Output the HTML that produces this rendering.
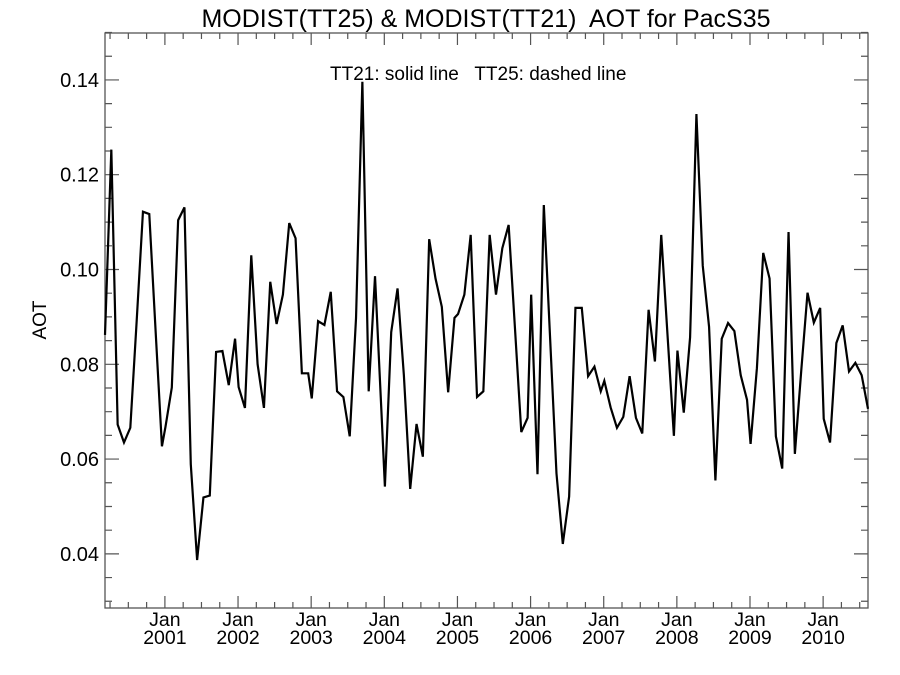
<!DOCTYPE html>
<html><head><meta charset="utf-8"><style>
body{margin:0;background:#fff}
svg{display:block;font-family:"Liberation Sans",Arial,sans-serif}
</style></head><body>
<svg id="chart" width="900" height="675" viewBox="0 0 900 675">
<g id="axes"></g>
<g id="series"></g>
<text x="486" y="27" font-size="25" text-anchor="middle" xml:space="preserve">MODIST(TT25) &amp; MODIST(TT21)  AOT for PacS35</text>
<text x="330" y="80" font-size="19" xml:space="preserve">TT21: solid line   TT25: dashed line</text>
<text transform="translate(46,320) rotate(-90)" font-size="19" text-anchor="middle">AOT</text>
</svg>
<script>
// Monthly TT21 AOT, starting March 2000
const startYear = 2000;
const startMonth = 3;
const tt21Values = [
0.0862,0.1253,0.0673,0.0635,0.0666,0.0890,0.1122,0.1117,0.0870,0.0627,
0.0668,0.0751,0.1104,0.1131,0.0589,0.0387,0.0519,0.0523,0.0826,0.0828,0.0756,0.0854,
0.0752,0.0708,0.1030,0.0800,0.0708,0.0974,0.0885,0.0947,0.1098,0.1066,0.0781,0.0781,
0.0728,0.0891,0.0883,0.0953,0.0743,0.0731,0.0648,0.0898,0.1396,0.0743,0.0986,0.0704,
0.0542,0.0868,0.0960,0.0777,0.0537,0.0674,0.0605,0.1064,0.0981,0.0921,0.0741,0.0898,
0.0906,0.0947,0.1073,0.0731,0.0743,0.1073,0.0947,0.1045,0.1094,0.0876,0.0657,0.0687,
0.0947,0.0568,0.1136,0.0853,0.0570,0.0421,0.0521,0.0919,0.0919,0.0775,0.0795,0.0743,
0.0765,0.0709,0.0666,0.0689,0.0775,0.0687,0.0654,0.0915,0.0806,0.1073,0.0860,0.0649,
0.0829,0.0698,0.0857,0.1328,0.1008,0.0879,0.0555,0.0854,0.0887,0.0870,0.0777,0.0725,
0.0632,0.0792,0.1035,0.0981,0.0648,0.0580,0.1079,0.0611,0.0785,0.0951,0.0888,0.0919,
0.0685,0.0635,0.0845,0.0882,0.0785,0.0803,0.0777,0.0706];
const yTickValues = [0.04,0.06,0.08,0.10,0.12,0.14];
const yTickLabels = ["0.04","0.06","0.08","0.10","0.12","0.14"];
const xTickYears = [2001,2002,2003,2004,2005,2006,2007,2008,2009,2010];

const NS="http://www.w3.org/2000/svg";
const L=105,R=868,T=33,B=608;
const Y0=0.02858,Y1=0.1499;
function tOf(i){const k=startMonth-1+i;const yr=startYear+Math.floor(k/12);const m=k%12;return yr+0.008+m*0.0865;}
const X0=tOf(0),X1=tOf(tt21Values.length-1);
function sx(t){return L+(t-X0)/(X1-X0)*(R-L);}
function sy(v){return B-(v-Y0)/(Y1-Y0)*(B-T);}
function el(tag,attrs,parent){const e=document.createElementNS(NS,tag);for(const k in attrs)e.setAttribute(k,attrs[k]);parent.appendChild(e);return e;}
const axes=document.getElementById('axes');
const frame=el('rect',{x:L,y:T,width:R-L,height:B-T,fill:'none',stroke:'#555','stroke-width':1.3},axes);


let tp='';
for(let v=0.03;v<=0.1501;v+=0.005){const y=sy(v);const major=Math.abs((v*100)%2)<0.01||Math.abs((v*100)%2-2)<0.01;const len=major?14:7;tp+=`M${L},${y}h${len}M${R},${y}h${-len}`;}
for(let yr=2000;yr<=2010;yr++){for(let q=0;q<4;q++){const t=yr+q*0.25;const x=sx(t);if(x<L-0.5||x>R+0.5)continue;const len=q===0?12:6;tp+=`M${x},${B}v${-len}M${x},${T}v${len}`;}}
const ticks=el('path',{d:tp,stroke:'#555','stroke-width':1.2,fill:'none'},axes);


yTickValues.forEach((v,i)=>{const t=el('text',{x:L-6,y:sy(v)+7,'font-size':20,'text-anchor':'end'},axes);t.textContent=yTickLabels[i];

});
xTickYears.forEach(yr=>{const x=sx(yr);const a=el('text',{x:x,y:626,'font-size':19.5,'text-anchor':'middle'},axes);a.textContent='Jan';


const b=el('text',{x:x,y:644,'font-size':19.5,'text-anchor':'middle'},axes);b.textContent=String(yr);

});
const pts=tt21Values.map((v,i)=>sx(tOf(i)).toFixed(2)+','+sy(v).toFixed(2)).join(' ');
const line=el('polyline',{points:pts,fill:'none',stroke:'#000','stroke-width':2.2,'stroke-linejoin':'miter'},document.getElementById('series'));


</script>
</body></html>
